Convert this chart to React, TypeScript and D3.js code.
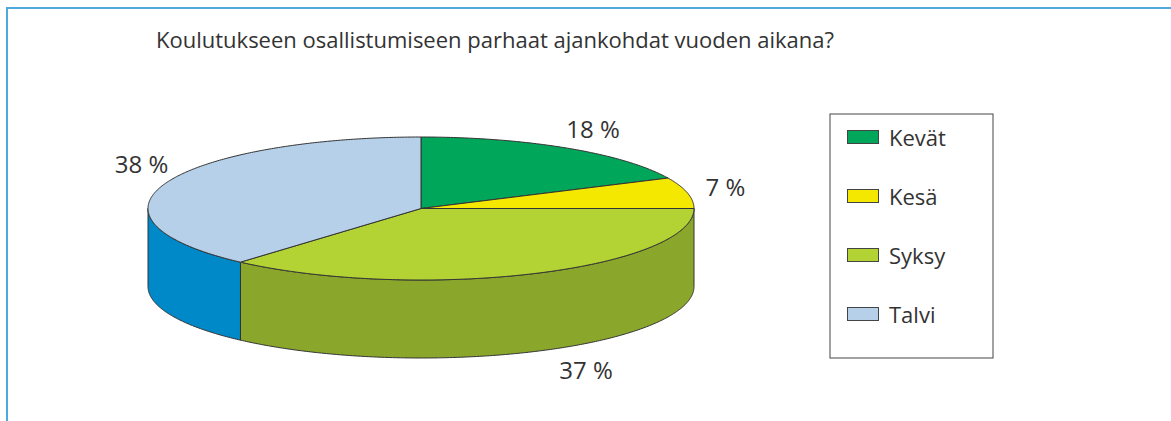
import React from "react";
import * as d3 from "d3";

const title = "Koulutukseen osallistumiseen parhaat ajankohdat vuoden aikana?";
const categories = ["Kevät", "Kesä", "Syksy", "Talvi"];
const values = [18, 7, 36.5, 38.5];
const labels = ["18 %", "7 %", "37 %", "38 %"];
const topColors = ["#00a65a", "#f5e800", "#b3d335", "#b6d0ea"];
const sideColors = ["#008a48", "#c9bd00", "#8ba72b", "#0089c9"];

const W = 1171;
const H = 421;
const cx = 421;
const cy = 208.5;
const rx = 273;
const ry = 71.5;
const depth = 78;
const FONT = "'Open Sans', 'Noto Sans', sans-serif";

function pt(a: number, dy = 0): [number, number] {
  return [cx + rx * Math.sin(a), cy - ry * Math.cos(a) + dy];
}

function arcPts(a0: number, a1: number, dy = 0): [number, number][] {
  const n = Math.max(2, Math.ceil(Math.abs(a1 - a0) / 0.01));
  const out: [number, number][] = [];
  for (let i = 0; i <= n; i++) out.push(pt(a0 + ((a1 - a0) * i) / n, dy));
  return out;
}

export default function App() {
  const pie = d3.pie<number>().sort(null).value((d) => d)(values);
  const line = d3.line<[number, number]>();

  const sides: JSX.Element[] = [];
  const tops: JSX.Element[] = [];
  pie.forEach((s, i) => {
    const a0 = Math.max(s.startAngle, Math.PI / 2);
    const a1 = Math.min(s.endAngle, (3 * Math.PI) / 2);
    if (a1 > a0) {
      const pts = [...arcPts(a0, a1), ...arcPts(a1, a0, depth)];
      sides.push(
        <path key={"s" + i} d={line(pts) + "Z"} fill={sideColors[i]} stroke="#333" strokeWidth={1} strokeLinejoin="round" />
      );
    }
    const tp: [number, number][] = [[cx, cy], ...arcPts(s.startAngle, s.endAngle)];
    tops.push(
      <path key={"t" + i} d={line(tp) + "Z"} fill={topColors[i]} stroke="#333" strokeWidth={1} strokeLinejoin="round" />
    );
  });

  const labelPos: [number, number][] = [
    [593, 128],
    [725.5, 186],
    [586, 369],
    [141.5, 163.5],
  ];

  const legendX = 830;
  const legendY = 114;
  const rowY = d3.scalePoint<string>().domain(categories).range([137, 314]);

  return (
    <svg width={W} height={H} style={{ position: "absolute", left: 0, top: 0, background: "#fff" }} fontFamily={FONT}>
      <rect x={0} y={0} width={W} height={H} fill="#fff" />
      <line x1={6} y1={8} x2={W} y2={8} stroke="#4fa9dc" strokeWidth={2} />
      <line x1={7} y1={7} x2={7} y2={H} stroke="#4fa9dc" strokeWidth={2} />
      <text x={156} y={48} fontSize={22} fill="#333">{title}</text>
      <g>{sides}</g>
      <g>{tops}</g>
      {labels.map((l, i) => (
        <text key={l} x={labelPos[i][0]} y={labelPos[i][1]} fontSize={24} fill="#333" textAnchor="middle" dominantBaseline="central">
          {l}
        </text>
      ))}
      <rect x={legendX} y={legendY} width={163} height={244} fill="#fff" stroke="#444" strokeWidth={1} />
      {categories.map((c, i) => (
        <g key={c} transform={`translate(0,${rowY(c)})`}>
          <rect x={847.5} y={-6.5} width={31} height={13} fill={topColors[i]} stroke="#444" strokeWidth={1} />
          <text x={889} y={0} fontSize={22} fill="#333" dominantBaseline="central">{c}</text>
        </g>
      ))}
    </svg>
  );
}
